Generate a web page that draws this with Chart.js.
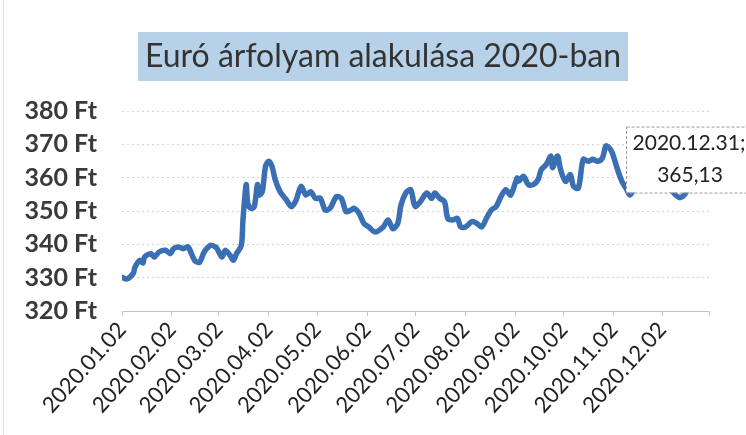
<!DOCTYPE html>
<html><head><meta charset="utf-8">
<script src="https://cdn.jsdelivr.net/npm/chart.js@4.4.1/dist/chart.umd.min.js"></script>
<style>html,body{margin:0;padding:0;background:#fff;}#wrap{width:746px;height:435px;position:relative;}canvas{display:block;}</style>
</head><body><div id="wrap"><canvas id="c" width="746" height="435"></canvas></div>
<script>
const chartTitle = 'Euró árfolyam alakulása 2020-ban';
const dates = [
 '2020.01.02','2020.01.05','2020.01.09','2020.01.10','2020.01.13','2020.01.15','2020.01.16','2020.01.20','2020.01.22','2020.01.25','2020.01.29',
 '2020.02.01','2020.02.03','2020.02.06','2020.02.09','2020.02.12','2020.02.16','2020.02.19','2020.02.22','2020.02.26','2020.02.29',
 '2020.03.01','2020.03.04','2020.03.06','2020.03.09','2020.03.11','2020.03.13','2020.03.16','2020.03.17','2020.03.19','2020.03.20','2020.03.22','2020.03.24','2020.03.26','2020.03.27','2020.03.29','2020.03.31',
 '2020.04.02','2020.04.04','2020.04.06','2020.04.09','2020.04.13','2020.04.16','2020.04.19','2020.04.22','2020.04.25','2020.04.28',
 '2020.05.01','2020.05.04','2020.05.07','2020.05.10','2020.05.14','2020.05.17','2020.05.20','2020.05.23','2020.05.25','2020.05.28','2020.05.31',
 '2020.06.03','2020.06.07','2020.06.12','2020.06.15','2020.06.18','2020.06.21','2020.06.23','2020.06.26','2020.06.29',
 '2020.07.01','2020.07.02','2020.07.05','2020.07.09','2020.07.12','2020.07.14','2020.07.17','2020.07.20','2020.07.22','2020.07.25','2020.07.28','2020.07.30',
 '2020.08.02','2020.08.06','2020.08.09','2020.08.12','2020.08.15','2020.08.18','2020.08.21','2020.08.24','2020.08.27','2020.08.30',
 '2020.09.03','2020.09.04','2020.09.07','2020.09.10','2020.09.13','2020.09.16','2020.09.18','2020.09.21','2020.09.24','2020.09.25','2020.09.28','2020.09.30',
 '2020.10.03','2020.10.06','2020.10.08','2020.10.11','2020.10.14','2020.10.17','2020.10.20','2020.10.23','2020.10.26','2020.10.28','2020.10.30',
 '2020.11.01','2020.11.02','2020.11.05','2020.11.07','2020.11.10','2020.11.12','2020.11.15','2020.11.19','2020.11.23','2020.11.27',
 '2020.12.01','2020.12.05','2020.12.08','2020.12.11','2020.12.13','2020.12.16','2020.12.19','2020.12.22','2020.12.26','2020.12.29','2020.12.31'
];
const rates = [
 330.1,329.6,331.3,333.1,335.2,334.4,336.2,337.2,336.2,337.7,338.2,
 337.2,338.7,339.2,338.7,339.2,335.2,334.6,337.7,339.7,339.2,
 338.7,336.2,338.2,336.7,335.2,337.2,339.7,347.3,357.9,352.3,350.8,351.3,357.9,354.8,355.8,363.4,
 364.9,363.4,359.4,355.8,353.3,351.3,353.3,357.4,354.8,355.8,
 353.8,353.8,350.3,350.8,354.3,353.8,349.8,350.3,350.8,349.3,346.3,
 345.2,343.7,345.2,347.3,344.7,346.3,351.8,355.4,356.4,
 352.3,351.3,352.8,355.4,353.8,355.4,353.8,352.8,347.8,347.3,347.8,345.2,
 345.2,346.8,346.3,345.2,347.8,350.3,351.3,354.3,356.4,354.8,
 359.9,359.0,360.4,357.9,357.9,359.4,362.4,363.9,366.5,363.0,366.5,362.4,
 358.9,360.9,357.4,356.9,365.5,364.9,365.5,364.9,366.0,369.5,369.0,
 367.5,366.0,361.4,358.9,356.4,354.8,357.0,358.0,357.5,357.0,
 358.0,357.0,356.0,354.5,354.0,355.0,358.0,361.0,362.0,363.5,365.13
];
const tickDates = ['2020.01.02','2020.02.02','2020.03.02','2020.04.02','2020.05.02','2020.06.02','2020.07.02','2020.08.02','2020.09.02','2020.10.02','2020.11.02','2020.12.02','2020.12.31'];
const tickLabels = ['2020.01.02','2020.02.02','2020.03.02','2020.04.02','2020.05.02','2020.06.02','2020.07.02','2020.08.02','2020.09.02','2020.10.02','2020.11.02','2020.12.02',''];
const yMin = 320, yMax = 380, yStep = 10, yUnit = ' Ft';
const lastLabelLines = ['2020.12.31;', '365,13'];

function dayNum(s){const p=s.split('.').map(Number);return (Date.UTC(p[0],p[1]-1,p[2])-Date.UTC(2020,0,2))/86400000;}

const bgPlugin = {
  id:'bg',
  beforeDraw(chart){
    const ctx=chart.ctx;ctx.save();
    ctx.fillStyle='#fff';ctx.fillRect(0,0,chart.width,chart.height);
    ctx.strokeStyle='#e2e2e2';ctx.lineWidth=1;ctx.beginPath();ctx.moveTo(3.5,0);ctx.lineTo(3.5,chart.height);ctx.stroke();
    ctx.fillStyle='#b7d2e8';ctx.fillRect(138,32,490,49);
    ctx.fillStyle='#333';ctx.font='32px Lato';ctx.textAlign='center';ctx.textBaseline='middle';
    ctx.fillText(chartTitle,383,57);
    ctx.restore();
  }
};
const labelPlugin = {
  id:'lastLabel',
  afterDatasetsDraw(chart){
    const meta=chart.getDatasetMeta(0);const pt=meta.data[meta.data.length-1];
    const ctx=chart.ctx;ctx.save();
    const l=pt.x-83,t=pt.y-34,w=140,h=66;
    ctx.fillStyle='#fff';ctx.fillRect(l,t,w,h);
    ctx.strokeStyle='#9a9a9a';ctx.setLineDash([3,2]);ctx.lineWidth=1;ctx.strokeRect(l+0.5,t+0.5,w,h);
    ctx.setLineDash([]);
    ctx.fillStyle='#222';ctx.font='21px Lato';ctx.textAlign='center';ctx.textBaseline='middle';
    ctx.fillText(lastLabelLines[0],pt.x-20,pt.y-17);
    ctx.fillText(lastLabelLines[1],pt.x-19,pt.y+15);
    ctx.restore();
  }
};

new Chart(document.getElementById('c'),{
  type:'line',
  data:{datasets:[{
    data:dates.map((d,i)=>({x:dayNum(d),y:rates[i]})),
    borderColor:'#3a70b3',borderWidth:5.5,pointRadius:0,tension:0.3,
    borderCapStyle:'round',borderJoinStyle:'round',fill:false
  }]},
  options:{
    responsive:false,animation:false,devicePixelRatio:1,
    layout:{padding:{top:111,right:37,left:0,bottom:0}},
    plugins:{legend:{display:false},tooltip:{enabled:false},title:{display:false}},
    scales:{
      x:{type:'linear',min:0,max:364,
        afterBuildTicks:s=>{s.ticks=tickDates.map(d=>({value:dayNum(d)}));},
        afterFit:s=>{s.height=124;},
        ticks:{autoSkip:false,minRotation:48,maxRotation:48,padding:1,color:'#222',font:{family:'Lato',size:22},
          callback:(v,i)=>tickLabels[i]},
        grid:{drawOnChartArea:false,drawTicks:true,tickLength:5,color:'#c4c4c4'},
        border:{color:'#c4c4c4',width:1}
      },
      y:{min:yMin,max:yMax,
        afterFit:s=>{s.width=122;},
        ticks:{stepSize:yStep,padding:25,color:'#3a3a3a',font:{family:'Lato',size:25,weight:'bold'},callback:v=>v+yUnit},
        grid:{color:'#d2d2d2',drawTicks:false,lineWidth:1},
        border:{display:false,dash:[2,3]}
      }
    }
  },
  plugins:[bgPlugin,labelPlugin]
});
</script></body></html>
